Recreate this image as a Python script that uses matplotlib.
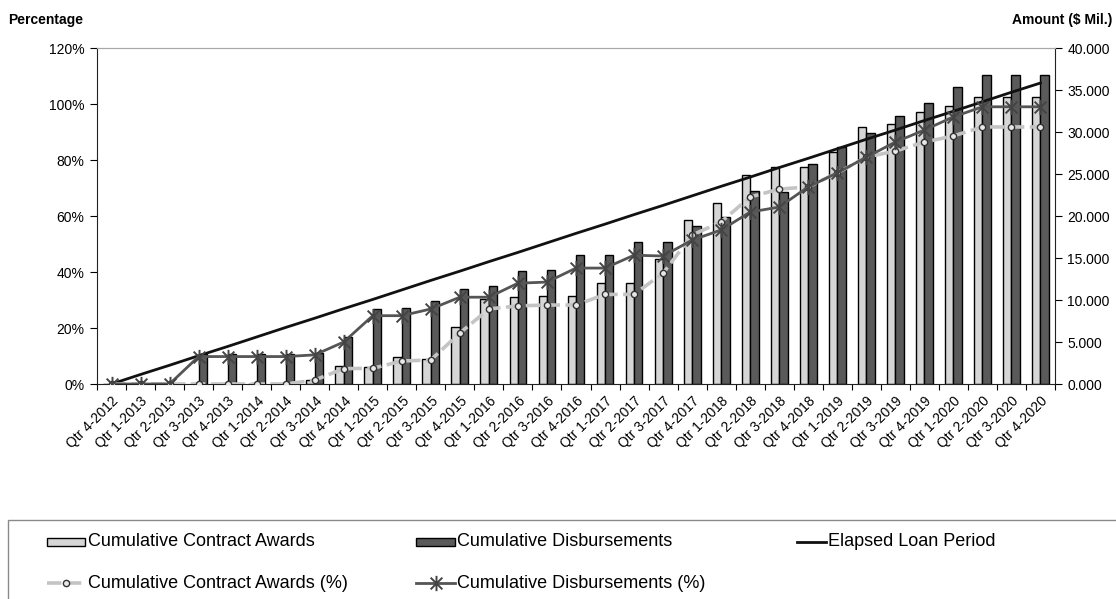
import matplotlib
matplotlib.use('Agg')
import matplotlib.pyplot as plt
from matplotlib.lines import Line2D
from matplotlib.patches import Rectangle
from matplotlib.path import Path
from matplotlib.ticker import FuncFormatter, FixedLocator
import numpy as np

plt.rcParams['font.family'] = ['Liberation Sans', 'DejaVu Sans']

quarters = ['Qtr 4-2012',
            'Qtr 1-2013', 'Qtr 2-2013', 'Qtr 3-2013', 'Qtr 4-2013',
            'Qtr 1-2014', 'Qtr 2-2014', 'Qtr 3-2014', 'Qtr 4-2014',
            'Qtr 1-2015', 'Qtr 2-2015', 'Qtr 3-2015', 'Qtr 4-2015',
            'Qtr 1-2016', 'Qtr 2-2016', 'Qtr 3-2016', 'Qtr 4-2016',
            'Qtr 1-2017', 'Qtr 2-2017', 'Qtr 3-2017', 'Qtr 4-2017',
            'Qtr 1-2018', 'Qtr 2-2018', 'Qtr 3-2018', 'Qtr 4-2018',
            'Qtr 1-2019', 'Qtr 2-2019', 'Qtr 3-2019', 'Qtr 4-2019',
            'Qtr 1-2020', 'Qtr 2-2020', 'Qtr 3-2020', 'Qtr 4-2020']

# Amounts ($ Mil.) - right axis
awards_amt = [0, 0, 0, 0, 0, 0, 0, 0.5, 2.1, 2.0, 3.2, 3.0, 6.8, 10.1, 10.4, 10.5, 10.5,
              12.0, 12.0, 14.9, 19.5, 21.5, 24.9, 25.8, 25.8, 27.6, 30.6, 31.0, 32.4,
              33.1, 34.2, 34.2, 34.2]
disb_amt = [0, 0, 0, 3.6, 3.6, 3.6, 3.6, 3.7, 5.6, 8.9, 9.0, 9.9, 11.3, 11.7, 13.5, 13.6,
            15.4, 15.4, 16.9, 16.9, 18.8, 19.9, 23.0, 22.9, 26.2, 28.2, 29.9, 31.9, 33.5,
            35.4, 36.8, 36.8, 36.8]

# Percentages - left axis
elapsed_pct = [0, 3.4, 6.7, 10.1, 13.4, 16.8, 20.2, 23.5, 26.9, 30.2, 33.6, 37.0, 40.3,
               43.7, 47.0, 50.4, 53.8, 57.1, 60.5, 63.8, 67.2, 70.6, 73.9, 77.3, 80.6,
               84.0, 87.4, 90.7, 94.1, 97.4, 100.8, 104.2, 107.5]
awards_pct = [0, 0, 0, 0, 0, 0, 0, 1.4, 5.5, 5.6, 8.2, 8.6, 18.2, 26.8, 27.9, 28.2, 28.2,
              32.0, 32.0, 39.6, 53.2, 57.9, 66.8, 69.6, 70.4, 75.4, 81.0, 83.2, 86.4,
              88.6, 91.8, 91.8, 91.8]
disb_pct = [0, 0, 0, 9.8, 9.8, 9.8, 9.8, 10.4, 15.0, 24.4, 24.4, 26.8, 31.0, 31.0, 36.0,
            36.4, 41.4, 41.4, 46.0, 45.7, 51.4, 55.0, 61.4, 63.2, 70.4, 75.4, 81.0, 86.4,
            90.7, 95.4, 99.0, 99.0, 99.0]

W, H = 1116, 599
fig = plt.figure(figsize=(W / 100, H / 100), dpi=100)

def fx(x):
    return x / W

def fy(y):
    return 1 - y / H

ax = fig.add_axes([fx(97), fy(384), fx(1055) - fx(97), fy(48) - fy(384)])
ax2 = ax.twinx()
ax.set_zorder(ax2.get_zorder() + 1)
ax.patch.set_visible(False)

x = np.arange(len(quarters))
bw = 0.29
LIGHT = '#d6d6d6'
DARK = '#5a5a5a'
ax2.bar(x - bw / 2, awards_amt, width=bw, color=LIGHT, edgecolor='black', linewidth=1.0)
ax2.bar(x + bw / 2, disb_amt, width=bw, color=DARK, edgecolor='black', linewidth=1.0)

star = Path([(-1, -1), (1, 1), (-1, 1), (1, -1), (0, -1.3), (0, 1.3)],
            [Path.MOVETO, Path.LINETO, Path.MOVETO, Path.LINETO, Path.MOVETO, Path.LINETO])

ax.plot(x, np.array(elapsed_pct) / 100, color='#111111', lw=2.0, zorder=3)
ax.plot(x, np.array(awards_pct) / 100, color='#c4c4c4', lw=2.6, dashes=(4, 1.5),
        marker='o', markersize=4.5, markerfacecolor='#e8e8e8', markeredgecolor='#333333',
        markeredgewidth=1.0, zorder=4)
ax.plot(x, np.array(disb_pct) / 100, color='#555555', lw=2.0, marker=star,
        markersize=11, markeredgewidth=1.4, markeredgecolor='#444444', zorder=5)

ax.set_xlim(-0.5, len(quarters) - 0.5)
ax.set_ylim(0, 1.2)
ax2.set_ylim(0, 40)
ax.set_yticks(np.arange(0, 1.21, 0.2))
ax.yaxis.set_major_formatter(FuncFormatter(lambda v, p: f"{v * 100:.0f}%"))
ax2.set_yticks(np.arange(0, 40.1, 5))
ax2.yaxis.set_major_formatter(FuncFormatter(lambda v, p: f"{v:.3f}"))

ax.set_xticks(x)
ax.set_xticklabels(quarters, rotation=45, ha='right', rotation_mode='anchor', fontsize=10)
ax.xaxis.set_minor_locator(FixedLocator(np.arange(-0.5, len(quarters), 1.0)))
ax.tick_params(axis='x', which='major', length=0, pad=7)
ax.tick_params(axis='x', which='minor', length=4, direction='out', width=0.8)
ax.tick_params(axis='y', length=5, width=0.8, labelsize=10, pad=4)
ax2.tick_params(axis='y', length=5, width=0.8, labelsize=10, pad=4)

for a in (ax, ax2):
    a.spines['top'].set_color('#a8a8a8')
    a.spines['top'].set_linewidth(0.8)
    a.spines['top'].set_linestyle((0, (1, 1)))
ax.spines['left'].set_color('#222222')
ax.spines['bottom'].set_color('#222222')
ax.spines['right'].set_visible(False)
ax2.spines['left'].set_visible(False)
ax2.spines['bottom'].set_visible(False)
ax2.spines['right'].set_color('#222222')

fig.text(fx(8), fy(20), 'Percentage', fontsize=10, fontweight='bold', va='center', ha='left')
fig.text(fx(1112), fy(20), 'Amount ($ Mil.)', fontsize=10, fontweight='bold', va='center', ha='right')

# Legend box
fig.add_artist(Rectangle((fx(8), fy(640)), fx(1200) - fx(8), fy(520) - fy(640),
                         transform=fig.transFigure, facecolor='none',
                         edgecolor='#8a8a8a', linewidth=1.0))

LFS = 13
def legend_text(xp, yp, s):
    fig.text(fx(xp), fy(yp), s, fontsize=LFS, va='center', ha='left')

# Row 1
fig.add_artist(Rectangle((fx(47), fy(546)), fx(85) - fx(47), fy(538) - fy(546),
                         transform=fig.transFigure, facecolor=LIGHT, edgecolor='black', lw=1))
legend_text(88, 542, 'Cumulative Contract Awards')
fig.add_artist(Rectangle((fx(416), fy(546)), fx(455) - fx(416), fy(538) - fy(546),
                         transform=fig.transFigure, facecolor=DARK, edgecolor='black', lw=1))
legend_text(457, 542, 'Cumulative Disbursements')
fig.add_artist(Line2D([fx(797), fx(826)], [fy(542), fy(542)], transform=fig.transFigure,
                      color='#111111', lw=2.0))
legend_text(828, 542, 'Elapsed Loan Period')

# Row 2
fig.add_artist(Line2D([fx(47), fx(85)], [fy(583), fy(583)], transform=fig.transFigure,
                      color='#c4c4c4', lw=2.6, dashes=(4, 1.5)))
fig.add_artist(Line2D([fx(66)], [fy(583)], transform=fig.transFigure, marker='o',
                      markersize=4.5, markerfacecolor='#e8e8e8', markeredgecolor='#333333',
                      markeredgewidth=1.0, linestyle='none'))
legend_text(88, 583, 'Cumulative Contract Awards (%)')
fig.add_artist(Line2D([fx(416), fx(455)], [fy(583), fy(583)], transform=fig.transFigure,
                      color='#555555', lw=2.0))
fig.add_artist(Line2D([fx(436)], [fy(583)], transform=fig.transFigure, marker=star,
                      markersize=11, markeredgewidth=1.4, markeredgecolor='#444444',
                      linestyle='none'))
legend_text(457, 583, 'Cumulative Disbursements (%)')

fig.savefig('out.png', dpi=100)
